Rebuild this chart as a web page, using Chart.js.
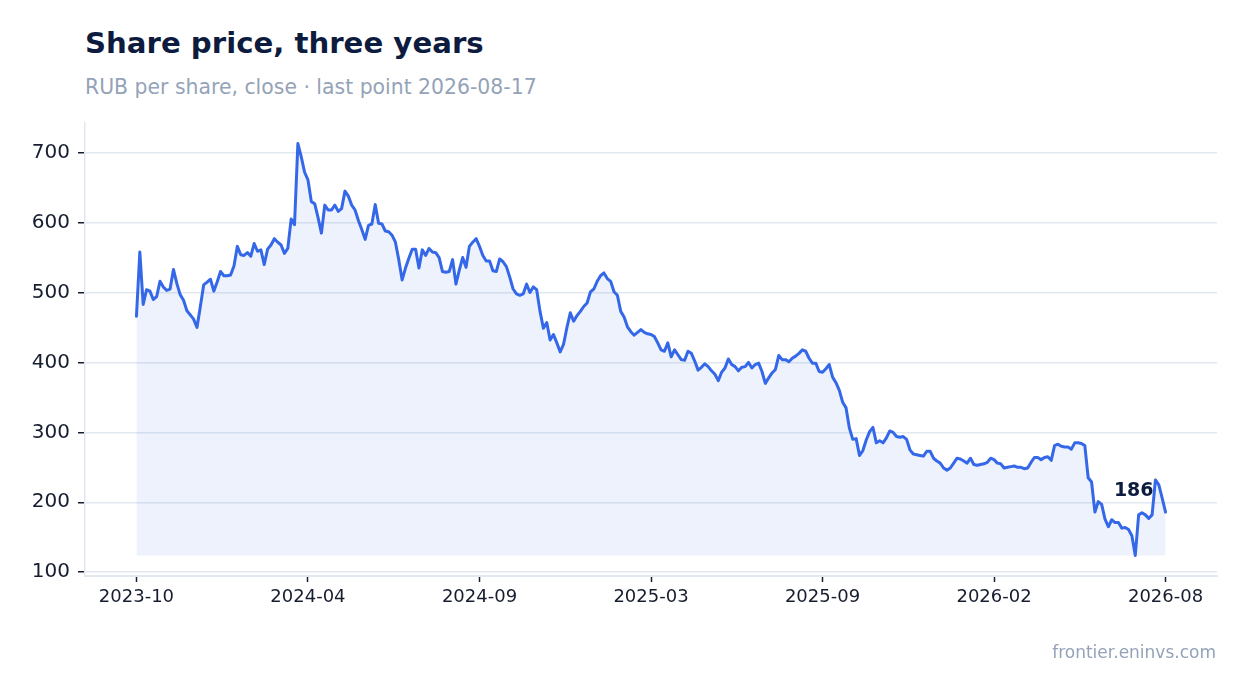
<!DOCTYPE html>
<html>
<head>
<meta charset="utf-8">
<script src="https://cdn.jsdelivr.net/npm/chart.js@4.4.1/dist/chart.umd.min.js"></script>
<style>
html,body{margin:0;padding:0;background:#ffffff;}
#wrap{position:relative;width:1247px;height:693px;font-family:"DejaVu Sans",sans-serif;overflow:hidden;}
#title{position:absolute;left:85px;top:28.5px;font-size:29.2px;font-weight:bold;color:#0d1b3e;line-height:1;white-space:nowrap;}
#sub{position:absolute;left:85px;top:76.7px;font-size:20.4px;color:#94a3b8;line-height:1;white-space:nowrap;}
#foot{position:absolute;right:31px;top:643.5px;font-size:17px;color:#94a3b8;line-height:1;white-space:nowrap;}
#c{position:absolute;left:0;top:0;}
</style>
</head>
<body>
<div id="wrap">
<div id="title">Share price, three years</div>
<div id="sub">RUB per share, close · last point 2026-08-17</div>
<canvas id="c" width="1247" height="693"></canvas>
<div id="foot">frontier.eninvs.com</div>
</div>
<script>
// Tick labels for the x axis (evenly spaced over the series)
const tickLabels = ['2023-10', '2024-04', '2024-09', '2025-03', '2025-09', '2026-02', '2026-08'];
// Y-axis tick values
const yTicks = [100, 200, 300, 400, 500, 600, 700];
// Close price, RUB per share (evenly spaced observations, last = 2026-08-17)
const prices = [
  466, 558, 483, 504, 502, 490, 494, 516, 508, 503,
  505, 533, 513, 497, 489, 474, 468, 462, 450, 480,
  511, 515, 519, 502, 515, 530, 524, 524, 525, 538,
  566, 554, 553, 557, 552, 570, 559, 561, 540, 562,
  568, 577, 572, 568, 556, 563, 605, 597, 713, 694,
  672, 661, 630, 627, 607, 585, 625, 618, 618, 625,
  616, 620, 645, 638, 625, 618, 603, 590, 576, 596,
  598, 626, 599, 598, 588, 587, 582, 572, 547, 518,
  535, 549, 562, 562, 535, 561, 553, 563, 558, 557,
  550, 530, 529, 530, 547, 512, 532, 550, 536, 566,
  572, 577, 566, 553, 545, 545, 531, 530, 548, 544,
  537, 522, 505, 498, 496, 498, 512, 500, 508, 504,
  473, 449, 457, 432, 440, 428, 415, 426, 450, 471,
  459, 467, 473, 480, 485, 501, 505, 516, 524, 528,
  520, 516, 501, 496, 473, 465, 451, 444, 439, 443,
  447, 443, 441, 440, 437, 428, 418, 416, 428, 408,
  418, 411, 404, 403, 416, 413, 402, 389, 393, 398,
  394, 388, 383, 374, 386, 392, 405, 397, 394, 388,
  393, 394, 400, 392, 397, 399, 387, 370, 378, 385,
  390, 410, 404, 404, 401, 406, 409, 413, 418, 416,
  406, 399, 399, 387, 386, 391, 397, 379, 371, 360,
  343, 335, 306, 290, 291, 267, 274, 289, 301, 307,
  285, 288, 285, 292, 302, 300, 294, 293, 294, 290,
  275, 269, 268, 267, 266, 273, 273, 263, 259, 256,
  249, 246, 249, 256, 263, 262, 259, 256, 263, 254,
  253, 254, 255, 257, 263, 261, 256, 255, 249, 250,
  251, 252, 250, 250, 248, 249, 257, 264, 264, 261,
  264, 265, 260, 281, 283, 280, 279, 279, 276, 285,
  285, 284, 281, 235, 229, 186, 201, 197, 176, 165,
  175, 171, 171, 163, 164, 161, 152, 124, 182, 185,
  182, 177, 182, 232, 225, 206, 186
];

const lastIdx = prices.length - 1;
const xPad = lastIdx * 0.05;
const minP = Math.min(...prices);
const maxP = Math.max(...prices);
const yPad = (maxP - minP) * 0.05;
const tickColor = '#161d2e';
const gridColor = '#e2e8f0';

const lastLabel = {
  id: 'lastLabel',
  afterDatasetsDraw(chart) {
    const meta = chart.getDatasetMeta(0);
    const p = meta.data[meta.data.length - 1];
    const ctx = chart.ctx;
    ctx.save();
    ctx.font = 'bold 19px "DejaVu Sans", sans-serif';
    ctx.fillStyle = '#0d1b3e';
    ctx.textAlign = 'right';
    ctx.textBaseline = 'middle';
    ctx.fillText(String(prices[lastIdx]), p.x - 12, p.y - 21);
    ctx.restore();
  }
};

new Chart(document.getElementById('c'), {
  type: 'line',
  data: {
    datasets: [{
      data: prices.map((v, i) => ({ x: i, y: v })),
      borderColor: '#3468e8',
      borderWidth: 3,
      backgroundColor: 'rgba(52,104,232,0.085)',
      fill: { value: minP },
      pointRadius: 0,
      pointHoverRadius: 0,
      tension: 0,
      borderJoinStyle: 'round',
      borderCapStyle: 'round'
    }]
  },
  options: {
    responsive: false,
    animation: false,
    layout: { padding: { top: 123, right: 30, bottom: 77, left: 0 } },
    plugins: { legend: { display: false }, tooltip: { enabled: false } },
    scales: {
      x: {
        type: 'linear',
        min: -xPad,
        max: lastIdx + xPad,
        afterBuildTicks: s => {
          s.ticks = tickLabels.map((t, k) => ({ value: k * lastIdx / (tickLabels.length - 1) }));
        },
        afterFit: s => { s.height = 40; },
        ticks: {
          callback: (v, k) => tickLabels[k],
          font: { family: 'DejaVu Sans', size: 18 },
          color: tickColor,
          padding: 5,
          maxRotation: 0,
          autoSkip: false
        },
        grid: { drawOnChartArea: false, drawTicks: true, tickLength: 6, tickColor: tickColor, tickWidth: 1.5 },
        border: { display: true, color: gridColor, width: 2 }
      },
      y: {
        min: minP - yPad,
        max: maxP + yPad,
        afterBuildTicks: s => { s.ticks = yTicks.map(v => ({ value: v })); },
        afterFit: s => { s.width = 85; },
        ticks: {
          font: { family: 'DejaVu Sans', size: 20 },
          color: tickColor,
          padding: 8
        },
        grid: { color: gridColor, lineWidth: 1.5, drawTicks: true, tickLength: 7, tickColor: tickColor, tickWidth: 1.5 },
        border: { display: true, color: gridColor, width: 1.5 }
      }
    }
  },
  plugins: [lastLabel]
});
</script>
</body>
</html>
